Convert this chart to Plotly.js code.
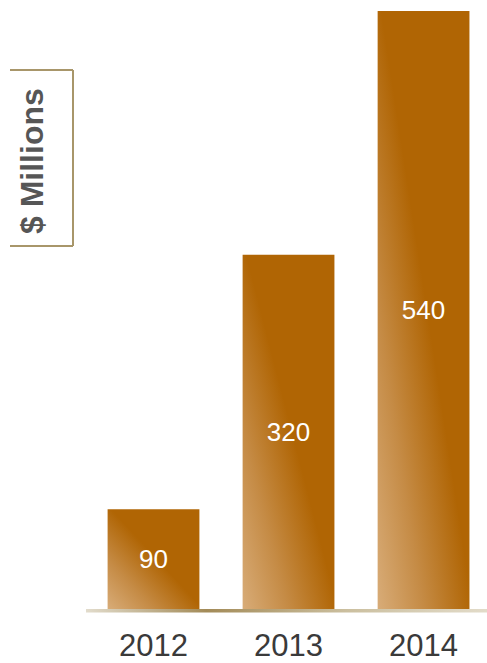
<!DOCTYPE html>
<html>
<head>
<meta charset="utf-8">
<script src="https://cdn.plot.ly/plotly-3.0.1.min.js"></script>
<style>html,body{margin:0;padding:0;background:#fff;}#chart{width:487px;height:663px;}</style>
</head>
<body>
<div id="chart"></div>
<script>
var years = ["2012", "2013", "2014"];
var values = [90, 320, 540];
var valueLabels = ["90", "320", "540"];
var axisTitle = "$ Millions";

var FONT = "Liberation Sans, Arial, sans-serif";

var trace = {
  type: "bar",
  x: years,
  y: values,
  width: 0.68,
  text: valueLabels,
  textposition: "inside",
  insidetextanchor: "middle",
  textangle: 0,
  textfont: {family: FONT, size: 26, color: "#ffffff"},
  marker: {color: "#b06504", line: {width: 0}},
  hoverinfo: "none",
  cliponaxis: false
};

var boxColor = "#a8966a";
var layout = {
  width: 487, height: 663,
  margin: {l: 86, r: 0, t: 0, b: 54, pad: 0},
  paper_bgcolor: "#ffffff",
  plot_bgcolor: "#ffffff",
  showlegend: false,
  xaxis: {
    type: "category",
    range: [-0.5, 2.47],
    showgrid: false, zeroline: false, showline: false,
    ticks: "", ticklabelstandoff: 15,
    tickfont: {family: FONT, size: 31, color: "#3a3a3a"},
    fixedrange: true
  },
  yaxis: {
    range: [0, 550],
    showgrid: false, zeroline: false, showline: false,
    showticklabels: false, ticks: "",
    fixedrange: true
  },
  shapes: [
    {type: "rect", xref: "paper", yref: "paper", x0: 0, x1: 1, y0: 0, y1: -3.5/609,
     fillcolor: "#b8a77e", line: {width: 0}, layer: "above"},
    {type: "line", xref: "paper", yref: "paper", x0: -76/401, x1: -13/401, y0: 1 - 70/609, y1: 1 - 70/609,
     line: {color: boxColor, width: 2}},
    {type: "line", xref: "paper", yref: "paper", x0: -13/401, x1: -13/401, y0: 1 - 70/609, y1: 1 - 246/609,
     line: {color: boxColor, width: 2}},
    {type: "line", xref: "paper", yref: "paper", x0: -76/401, x1: -13/401, y0: 1 - 246/609, y1: 1 - 246/609,
     line: {color: boxColor, width: 2}}
  ],
  annotations: [
    {text: "<b>" + axisTitle + "</b>", xref: "paper", yref: "paper",
     x: -54/401, y: 1 - 161/609, xanchor: "center", yanchor: "middle",
     textangle: -90, showarrow: false,
     font: {family: FONT, size: 32, color: "#565656"}}
  ]
};

function applyGradients(gd) {
  var svg = gd.querySelector("svg.main-svg");
  var ns = "http://www.w3.org/2000/svg";
  var defs = svg.querySelector("defs");
  if (!defs) { defs = document.createElementNS(ns, "defs"); svg.insertBefore(defs, svg.firstChild); }
  function grad(id, x1, y1, x2, y2, stops) {
    var g = document.createElementNS(ns, "linearGradient");
    g.setAttribute("id", id);
    g.setAttribute("x1", x1); g.setAttribute("y1", y1);
    g.setAttribute("x2", x2); g.setAttribute("y2", y2);
    stops.forEach(function (s) {
      var st = document.createElementNS(ns, "stop");
      st.setAttribute("offset", s[0]);
      st.setAttribute("stop-color", s[1]);
      g.appendChild(st);
    });
    defs.appendChild(g);
  }
  grad("barGrad", "0", "1", "1", "0", [[0, "#d8ac78"], [0.25, "#c58b45"], [0.52, "#b06504"], [1, "#b06504"]]);
  grad("baseGrad", "0", "0", "1", "0", [[0, "#e2dccc"], [0.3, "#a38b58"], [0.65, "#cbbf9f"], [1, "#e2dbc9"]]);
  gd.querySelectorAll(".barlayer .point path").forEach(function (p) {
    p.style.fill = "url(#barGrad)";
  });
  gd.querySelectorAll(".shapelayer path").forEach(function (p) {
    if (p.getAttribute("data-index") === "0") p.style.fill = "url(#baseGrad)";
  });
}

Plotly.newPlot("chart", [trace], layout, {displayModeBar: false, staticPlot: true}).then(applyGradients);
</script>
</body>
</html>
